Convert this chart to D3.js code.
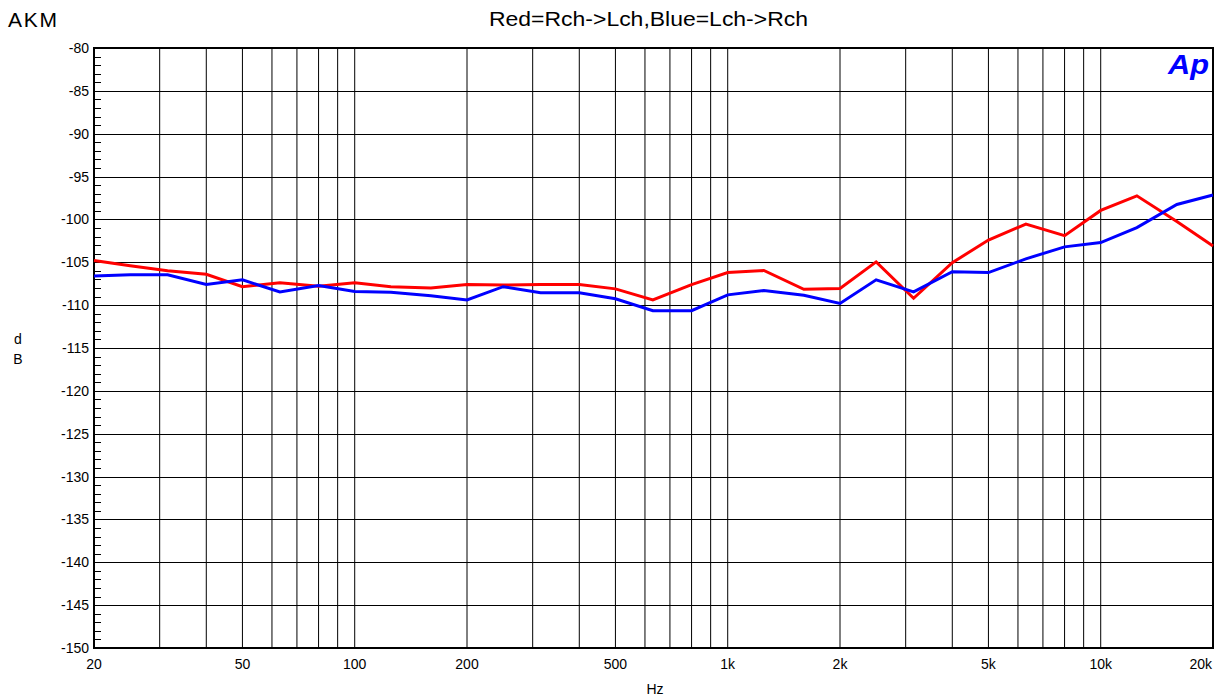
<!DOCTYPE html>
<html>
<head>
<meta charset="utf-8">
<script src="https://cdnjs.cloudflare.com/ajax/libs/d3/7.8.5/d3.min.js"></script>
<style>
  body { margin: 0; background: #fff; }
  svg { display: block; font-family: 'Liberation Sans', Arial, sans-serif; }
</style>
</head>
<body>
<svg id="chart" width="1222" height="700"></svg>
<script>
// 1/3 octave frequencies (Hz)
var freqs = [20, 25, 31.5, 40, 50, 63, 80, 100, 125, 160, 200, 250, 315, 400, 500, 630,
  800, 1000, 1250, 1600, 2000, 2500, 3150, 4000, 5000, 6300, 8000, 10000, 12500, 16000, 20000]

// Red = Rch->Lch (dB)
var redDb = [-104.8, -105.4, -106.0, -106.4, -107.85, -107.4, -107.8, -107.4, -107.85, -108.0,
  -107.6, -107.65, -107.6, -107.6, -108.1, -109.4, -107.6, -106.2, -105.95, -108.15,
  -108.05, -104.95, -109.2, -105.05, -102.4, -100.55, -101.9, -98.95, -97.25, -100.25, -103.1]

// Blue = Lch->Rch (dB)
var blueDb = [-106.6, -106.45, -106.45, -107.6, -107.05, -108.45, -107.7, -108.4, -108.5, -108.9,
  -109.4, -107.85, -108.55, -108.55, -109.25, -110.65, -110.65, -108.8, -108.3, -108.85,
  -109.8, -107.05, -108.45, -106.1, -106.2, -104.6, -103.2, -102.7, -100.95, -98.25, -97.15]

var yTicks = [-80, -85, -90, -95, -100, -105, -110, -115, -120, -125, -130, -135, -140, -145, -150]
var xTicks = [20, 50, 100, 200, 500, 1000, 2000, 5000, 10000, 20000]
var xTickLabels = ['20', '50', '100', '200', '500', '1k', '2k', '5k', '10k', '20k']

var margin = { left: 94, top: 48 }
var width = 1119
var height = 600

var svg = d3.select('#chart')
var g = svg.append('g')
  .attr('id', 'graph-g')
  .attr('transform', 'translate(' + margin.left + ',' + margin.top + ')')

var x = d3.scaleLog().domain([20, 20000]).range([0, width])
var y = d3.scaleLinear().domain([-150, -80]).range([height, 0])

/**
 * Draws the grid, the minor ticks and the tick labels.
 */
function drawGrid () {
  // vertical lines at every 1-9 multiple of each decade
  var vLines = []
  for (var dec = 10; dec <= 10000; dec *= 10) {
    for (var m = 1; m <= 9; m++) {
      var f = dec * m
      if (f > 20 && f < 20000) vLines.push(f)
    }
  }
  g.selectAll('.vgrid')
    .data(vLines)
    .enter()
    .append('line')
    .attr('class', 'vgrid')
    .attr('x1', function (d) { return x(d) })
    .attr('x2', function (d) { return x(d) })
    .attr('y1', 0)
    .attr('y2', height)
    .attr('stroke', '#000')
    .attr('stroke-width', 1)

  g.selectAll('.hgrid')
    .data(yTicks)
    .enter()
    .append('line')
    .attr('class', 'hgrid')
    .attr('x1', 0)
    .attr('x2', width)
    .attr('y1', function (d) { return Math.round(y(d)) + 0.5 })
    .attr('y2', function (d) { return Math.round(y(d)) + 0.5 })
    .attr('stroke', '#000')
    .attr('stroke-width', 1)

  // minor ticks every 1 dB on the left edge
  var minor = d3.range(-149, -80).filter(function (d) { return d % 5 !== 0 })
  g.selectAll('.minor')
    .data(minor)
    .enter()
    .append('line')
    .attr('class', 'minor')
    .attr('x1', 0)
    .attr('x2', 7)
    .attr('y1', function (d) { return Math.round(y(d)) + 0.5 })
    .attr('y2', function (d) { return Math.round(y(d)) + 0.5 })
    .attr('stroke', '#000')
    .attr('stroke-width', 1)

  g.selectAll('.ylabel')
    .data(yTicks)
    .enter()
    .append('text')
    .attr('class', 'ylabel')
    .attr('x', -5)
    .attr('y', function (d) { return y(d) })
    .attr('dy', '0.36em')
    .attr('text-anchor', 'end')
    .attr('font-size', 14)
    .text(function (d) { return d })

  // the last label sits inside the right edge
  g.selectAll('.xlabel')
    .data(xTicks)
    .enter()
    .append('text')
    .attr('class', 'xlabel')
    .attr('x', function (d, i) { return i === xTicks.length - 1 ? width - 1 : x(d) })
    .attr('y', height + 21)
    .attr('text-anchor', function (d, i) { return i === xTicks.length - 1 ? 'end' : 'middle' })
    .attr('font-size', 14)
    .text(function (d, i) { return xTickLabels[i] })

  g.append('rect')
    .attr('x', 0)
    .attr('y', 0)
    .attr('width', width)
    .attr('height', height)
    .attr('fill', 'none')
    .attr('stroke', '#000')
    .attr('stroke-width', 2)
}

/**
 * Draws one measurement curve.
 *
 * @param {number[]} values The dB values, one per frequency
 * @param {string} color The stroke colour
 */
function drawCurve (values, color) {
  var line = d3.line()
    .x(function (d) { return x(d.f) })
    .y(function (d) { return y(d.v) })
  var pts = freqs.map(function (f, i) { return { f: f, v: values[i] } })
  g.append('path')
    .datum(pts)
    .attr('d', line)
    .attr('fill', 'none')
    .attr('stroke', color)
    .attr('stroke-width', 3)
    .attr('stroke-linejoin', 'miter')
}

drawGrid()
drawCurve(redDb, '#ff0000')
drawCurve(blueDb, '#0000ff')

// texts around the plot
svg.append('text')
  .attr('x', 8).attr('y', 27)
  .attr('font-size', 21)
  .attr('textLength', 49)
  .text('AKM')

svg.append('text')
  .attr('x', 489).attr('y', 26)
  .attr('font-size', 20)
  .attr('textLength', 319)
  .attr('lengthAdjust', 'spacingAndGlyphs')
  .text('Red=Rch->Lch,Blue=Lch->Rch')

svg.append('text')
  .attr('x', 18).attr('y', 344)
  .attr('text-anchor', 'middle')
  .attr('font-size', 14)
  .text('d')
svg.append('text')
  .attr('x', 18).attr('y', 364)
  .attr('text-anchor', 'middle')
  .attr('font-size', 14)
  .text('B')

svg.append('text')
  .attr('x', 655).attr('y', 694)
  .attr('text-anchor', 'middle')
  .attr('font-size', 14)
  .text('Hz')

svg.append('text')
  .attr('x', 1168).attr('y', 74)
  .attr('font-size', 28)
  .attr('font-weight', 'bold')
  .attr('font-style', 'italic')
  .attr('fill', '#0000ff')
  .attr('textLength', 41)
  .attr('lengthAdjust', 'spacingAndGlyphs')
  .text('Ap')
</script>
</body>
</html>
